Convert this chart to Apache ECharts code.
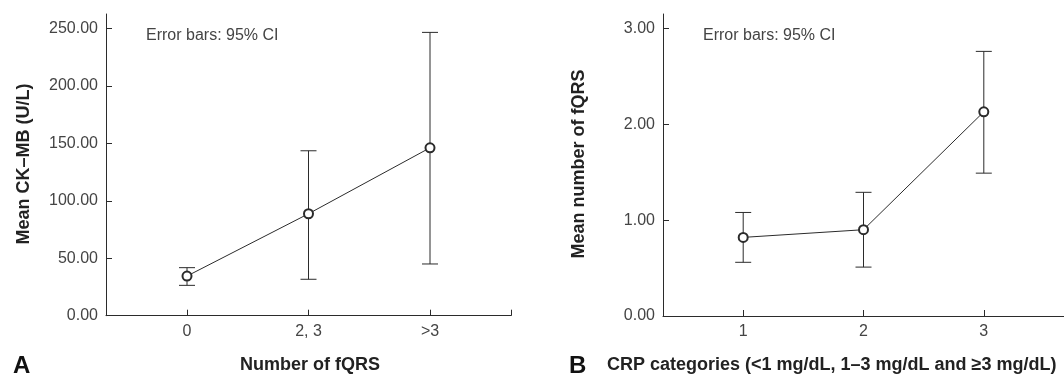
<!DOCTYPE html>
<html>
<head>
<meta charset="utf-8">
<script src="https://cdn.jsdelivr.net/npm/echarts@6/dist/echarts.min.js"></script>
<style>
html,body{margin:0;padding:0;background:#fff;}
#c{width:1064px;height:376px;}
</style>
</head>
<body>
<div id="c"></div>
<script>
// ---- data ----
const catsA = ['0', '2, 3', '>3'];
const meanA = [34.5, 88.7, 146.1];
const lowA = [26.4, 31.7, 45.0];
const highA = [41.8, 143.5, 246.5];
const yTicksA = [0, 50, 100, 150, 200, 250];

const catsB = ['1', '2', '3'];
const meanB = [0.82, 0.90, 2.13];
const lowB = [0.56, 0.51, 1.49];
const highB = [1.08, 1.29, 2.76];
const yTicksB = [0, 1, 2, 3];

const titleYA = 'Mean CK\u2013MB (U/L)';
const titleXA = 'Number of fQRS';
const titleYB = 'Mean number of fQRS';
const titleXB = 'CRP categories (<1 mg/dL, 1\u20133 mg/dL and \u22653 mg/dL)';
const note = 'Error bars: 95% CI';

const FONT = '"Liberation Sans", Arial, sans-serif';
const INK = '#2b2b2b';
const TXT = '#444';

const chart = echarts.init(document.getElementById('c'));

const xMin = 1/3, xMax = 11/3;
function xAxisCfg(gi, cats) {
  return {
    type: 'value', gridIndex: gi, min: xMin, max: xMax,
    axisLine: {show: true, lineStyle: {color: INK, width: 1}},
    splitLine: {show: false},
    axisTick: {show: true, inside: true, length: 6, lineStyle: {color: INK, width: 1},
               customValues: [1, 2, 3, xMax]},
    axisLabel: {show: true, customValues: [1, 2, 3], margin: 8,
                color: TXT, fontFamily: FONT, fontSize: 16,
                formatter: v => cats[Math.round(v) - 1]}
  };
}
function yAxisCfg(gi, ticks, max) {
  return {
    type: 'value', gridIndex: gi, min: 0, max: max,
    axisLine: {show: true, lineStyle: {color: INK, width: 1}},
    splitLine: {show: false},
    axisTick: {show: true, inside: true, length: 6, lineStyle: {color: INK, width: 1},
               customValues: ticks},
    axisLabel: {show: true, customValues: ticks, margin: 8,
                color: TXT, fontFamily: FONT, fontSize: 16,
                formatter: v => v.toFixed(2)}
  };
}
function errRender(params, api) {
  const x = api.value(0);
  const p1 = api.coord([x, api.value(1)]);
  const p2 = api.coord([x, api.value(2)]);
  const w = 8;
  const st = {stroke: INK, lineWidth: 1, fill: null};
  return {type: 'group', children: [
    {type: 'line', shape: {x1: p1[0], y1: p1[1], x2: p2[0], y2: p2[1]}, style: st},
    {type: 'line', shape: {x1: p1[0]-w, y1: p1[1], x2: p1[0]+w, y2: p1[1]}, style: st},
    {type: 'line', shape: {x1: p2[0]-w, y1: p2[1], x2: p2[0]+w, y2: p2[1]}, style: st}
  ]};
}
function lineSeries(ai, mean) {
  return {
    type: 'line', xAxisIndex: ai, yAxisIndex: ai, z: 3,
    data: mean.map((v, i) => [i + 1, v]),
    symbol: 'emptyCircle', symbolSize: 9, showSymbol: true,
    lineStyle: {color: INK, width: 1},
    itemStyle: {color: INK, borderColor: INK, borderWidth: 1},
    emphasis: {disabled: true}, animation: false
  };
}
function errSeries(ai, lo, hi) {
  return {
    type: 'custom', xAxisIndex: ai, yAxisIndex: ai, z: 2,
    data: lo.map((v, i) => [i + 1, v, hi[i]]),
    renderItem: errRender, animation: false, silent: true
  };
}

chart.setOption({
  animation: false,
  grid: [
    {left: 106, top: 14, width: 405, height: 301.7},
    {left: 663, top: 14, width: 405, height: 302}
  ],
  xAxis: [xAxisCfg(0, catsA), xAxisCfg(1, catsB)],
  yAxis: [yAxisCfg(0, yTicksA, 262.5), yAxisCfg(1, yTicksB, 3.15)],
  series: [
    errSeries(0, lowA, highA), lineSeries(0, meanA),
    errSeries(1, lowB, highB), lineSeries(1, meanB)
  ],
  graphic: [
    {type: 'text', x: 146, y: 36, style: {text: note, font: '16px ' + FONT, fill: TXT, textVerticalAlign: 'middle'}},
    {type: 'text', x: 703, y: 36, style: {text: note, font: '16px ' + FONT, fill: TXT, textVerticalAlign: 'middle'}},
    {type: 'text', x: 24, y: 164, rotation: Math.PI/2, style: {text: titleYA, font: 'bold 18px ' + FONT, fill: '#222', textAlign: 'center', textVerticalAlign: 'middle'}},
    {type: 'text', x: 579, y: 164, rotation: Math.PI/2, style: {text: titleYB, font: 'bold 18px ' + FONT, fill: '#222', textAlign: 'center', textVerticalAlign: 'middle'}},
    {type: 'text', x: 310, y: 365, style: {text: titleXA, font: 'bold 18px ' + FONT, fill: '#222', textAlign: 'center', textVerticalAlign: 'middle'}},
    {type: 'text', x: 607, y: 365, style: {text: titleXB, font: 'bold 18px ' + FONT, fill: '#222', textAlign: 'left', textVerticalAlign: 'middle'}},
    {type: 'text', x: 13, y: 366, style: {text: 'A', font: 'bold 24px ' + FONT, fill: '#111', textAlign: 'left', textVerticalAlign: 'middle'}},
    {type: 'text', x: 569, y: 366, style: {text: 'B', font: 'bold 24px ' + FONT, fill: '#111', textAlign: 'left', textVerticalAlign: 'middle'}}
  ]
});
</script>
</body>
</html>
